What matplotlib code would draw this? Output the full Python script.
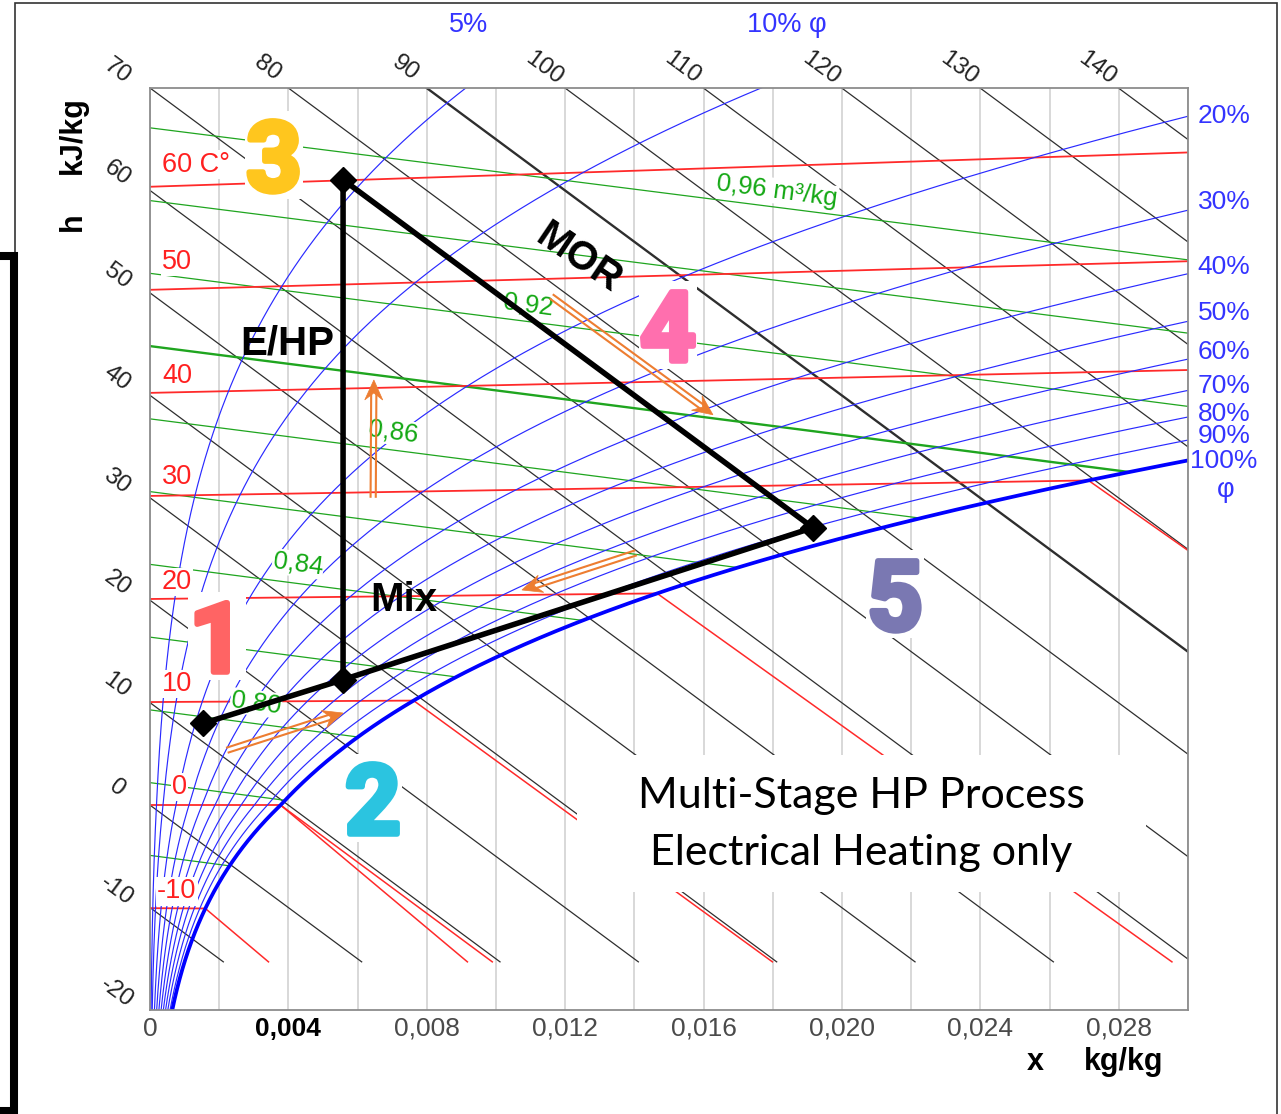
import numpy as np
import matplotlib
matplotlib.use("Agg")
import matplotlib.pyplot as plt
from matplotlib.lines import Line2D
from matplotlib.patches import Polygon, Rectangle
from matplotlib.transforms import IdentityTransform
from matplotlib.ticker import MultipleLocator
import matplotlib.patheffects as pe

plt.rcParams["font.family"] = ["Liberation Sans", "DejaVu Sans"]

W, H, DPI = 1281, 1114, 100

# ---------------- chart data ----------------
rh_levels = [0.05, 0.10, 0.20, 0.30, 0.40, 0.50, 0.60, 0.70, 0.80, 0.90, 1.00]
rh_right_values = [0.2, 0.3, 0.4, 0.5, 0.6, 0.7, 0.8, 0.9, 1.0]
rh_right_labels = ["20%", "30%", "40%", "50%", "60%", "70%", "80%", "90%", "100%"]
temp_levels = [-10, 0, 10, 20, 30, 40, 50, 60]
temp_labels = ["-10", "0", "10", "20", "30", "40", "50", "60 C°"]
enthalpy_levels = [-20, -10, 0, 10, 20, 30, 40, 50, 60, 70, 80, 90, 100, 110, 120, 130, 140]
volume_levels = [0.76, 0.78, 0.80, 0.82, 0.84, 0.86, 0.88, 0.90, 0.92, 0.94, 0.96]
x_ticks = [0, 0.004, 0.008, 0.012, 0.016, 0.020, 0.024, 0.028]
x_tick_labels = ["0", "0,004", "0,008", "0,012", "0,016", "0,020", "0,024", "0,028"]

# process states (x in kg/kg, h in kJ/kg): 1, Mix, 3, 5
state_x = [0.00153, 0.00558, 0.00558, 0.01916]
state_h = [11.8, 26.2, 75.0, 75.0]
process_order = [0, 1, 2, 3, 1]

# ---------------- psychrometrics ----------------
P = 101325.0
X_MAX, Y_MIN, Y_MAX = 0.030, -20.0, 70.0
Y_FOG_END = -15.3


def p_sat(t):
    t = np.asarray(t, float)
    return np.where(t >= 0, 611.2 * np.exp(17.62 * t / (243.12 + t)),
                    611.2 * np.exp(22.46 * t / (272.62 + t)))


def x_sat(t, phi=1.0):
    ps = phi * p_sat(t)
    return 0.622 * ps / (P - ps)


def ordinate(t, x):
    return 1.006 * t + 1.86 * t * x


def t_at_x(phi, x):
    lo, hi = -20.0, 99.0
    for _ in range(60):
        mid = 0.5 * (lo + hi)
        if float(x_sat(mid, phi)) < x:
            lo = mid
        else:
            hi = mid
    return 0.5 * (lo + hi)


# ---------------- figure ----------------
fig = plt.figure(figsize=(W / DPI, H / DPI), dpi=DPI)
fig.patch.set_facecolor("white")
PL, PR, PT, PB = 150, 1188, 88, 1010
ax = fig.add_axes([PL / W, 1 - PB / H, (PR - PL) / W, (PB - PT) / H])
ax.set_xlim(0, X_MAX)
ax.set_ylim(Y_MIN, Y_MAX)
for s in ax.spines.values():
    s.set_color("#8c8c8c")
    s.set_linewidth(1.3)
    s.set_zorder(8)
ax.set_yticks([])
ax.set_xticks(x_ticks)
ax.set_xticklabels(x_tick_labels, fontsize=19, color="#4a4a4a")
ax.get_xticklabels()[1].set_color("black")
ax.get_xticklabels()[1].set_fontweight("bold")
ax.xaxis.set_minor_locator(MultipleLocator(0.002))
ax.tick_params(axis="x", which="both", length=0, pad=5)
ax.grid(True, axis="x", which="both", color="#d6d6d6", lw=1.3, zorder=0)
ax.set_axisbelow(True)


def px2data(px, py):
    return ((px - PL) / (PR - PL) * X_MAX, Y_MIN + (PB - py) / (PB - PT) * (Y_MAX - Y_MIN))


# relative humidity curves
tt = np.linspace(-20, 99, 5000)
for phi in rh_levels:
    ps = phi * p_sat(tt)
    ok = ps < 0.7 * P
    xx = 0.622 * ps[ok] / (P - ps[ok])
    yy = ordinate(tt[ok], xx)
    if phi == 1.0:
        ax.plot(xx, yy, color="#0000ff", lw=2.7, zorder=2.5)
    else:
        ax.plot(xx, yy, color="#2a2aff", lw=0.85, zorder=2)

# isenthalps
for h in enthalpy_levels:
    if h < Y_FOG_END:
        continue
    x0 = max(0.0, (h - Y_MAX) / 2501.0)
    x1 = (h - Y_FOG_END) / 2501.0
    xs_ = np.array([x0, x1])
    ax.plot(xs_, h - 2501.0 * xs_, color="#2e2e2e", lw=1.7 if h == 90 else 0.9, zorder=1.5)

# isotherms
for t in temp_levels:
    xs = float(x_sat(t))
    xe = min(xs, X_MAX)
    ax.plot([0, xe], [ordinate(t, 0), ordinate(t, xe)], color="#ff2a2a", lw=1.3, zorder=1.8)
    ys = ordinate(t, xs)
    fogs = []
    if t >= 0:
        fogs.append(4.19 * t)
    if t <= 0:
        fogs.append(-333.0 + 2.09 * t)
    for c in fogs:
        slope = c - 2501.0
        x_end = xs + (Y_FOG_END - ys) / slope
        ax.plot([xs, x_end], [ys, Y_FOG_END], color="#ff2a2a", lw=1.1, zorder=1.8)

# specific volume lines
xg = np.linspace(0, 0.035, 4000)
for v in volume_levels:
    tg = v * P / (287.05 * (1 + 1.6078 * xg)) - 273.15
    ok = xg <= x_sat(tg)
    ax.plot(xg[ok], ordinate(tg[ok], xg[ok]), color="#1fa51f",
            lw=1.7 if abs(v - 0.90) < 1e-9 else 0.9, zorder=1.6)

# ---------------- chart labels ----------------
ang = -36.5
for h in enthalpy_levels:
    if h <= 70:
        ax.annotate(str(h), xy=(0, h), xytext=(-33, 17), textcoords="offset pixels",
                    rotation=ang, rotation_mode="anchor", ha="center", va="center",
                    fontsize=17.5, color="#222222", annotation_clip=False)
    else:
        ax.annotate(str(h), xy=((h - Y_MAX) / 2501.0, Y_MAX), xytext=(-21, 20),
                    textcoords="offset pixels", rotation=ang, rotation_mode="anchor",
                    ha="center", va="center", fontsize=17.5, color="#222222",
                    annotation_clip=False)

temp_dy = {-10: 17, 0: 18, 10: 18, 20: 17, 30: 19, 40: 17, 50: 28, 60: 22}
for t, lab in zip(temp_levels, temp_labels):
    dx = 22 if t == 0 else (7 if t == -10 else 12)
    ax.annotate(lab, xy=(0, ordinate(t, 0)), xytext=(dx, temp_dy[t]), textcoords="offset pixels",
                ha="left", va="center", fontsize=19.5, color="#ff2020", zorder=7.5,
                bbox=dict(facecolor="white", edgecolor="none", pad=1.0),
                annotation_clip=False)

vol_label_px = [("0,80", 256, 703), ("0,84", 298, 564), ("0,86", 393, 432),
                ("0,92", 528, 305), ("0,96 m³/kg", 777, 191)]
for lab, px, py in vol_label_px:
    ax.text(*px2data(px, py), lab, rotation=-7.5, rotation_mode="anchor", ha="center",
            va="center", fontsize=18.5, color="#14a814", zorder=3,
            bbox=dict(facecolor="white", edgecolor="none", pad=0.5))

rh_dy = [0, 8, 7, 8, 7, 4, 3, 4, -1]
for phi, lab, dy in zip(rh_right_values, rh_right_labels, rh_dy):
    te = t_at_x(phi, X_MAX)
    ax.annotate(lab, xy=(X_MAX, ordinate(te, X_MAX)), xytext=(36, dy), textcoords="offset pixels",
                ha="center", va="center", fontsize=19, color="#3434ff", annotation_clip=False)


def fig_text(px, py, s, **kw):
    fig.text(px / W, 1 - py / H, s, **kw)


fig_text(1226, 490, "φ", ha="center", va="center", fontsize=19.5, color="#3434ff")
fig_text(469, 25, "5%", ha="center", va="center", fontsize=19.5, color="#3434ff")
fig_text(787, 25, "10% φ", ha="center", va="center", fontsize=19.5, color="#3434ff")

fig_text(73, 135, "kJ/kg", rotation=90, ha="center", va="center", fontsize=22, fontweight="bold")
fig_text(73, 222, "h", rotation=90, ha="center", va="center", fontsize=22, fontweight="bold")
fig_text(1035, 1062, "x", ha="center", va="center", fontsize=22, fontweight="bold")
fig_text(1124, 1062, "kg/kg", ha="center", va="center", fontsize=22, fontweight="bold")

# white text box
bx0, by0 = px2data(577, 892)
bx1, by1 = px2data(1146, 755)
ax.add_patch(Rectangle((bx0, by0), bx1 - bx0, by1 - by0, facecolor="white", edgecolor="none", zorder=4))
ax.text(*px2data(861, 796), "Multi-Stage HP Process", ha="center", va="center",
        fontsize=31, family=["Lato", "DejaVu Sans"], color="black", zorder=5)
ax.text(*px2data(861, 853), "Electrical Heating only", ha="center", va="center",
        fontsize=31, family=["Lato", "DejaVu Sans"], color="black", zorder=5)

# ---------------- process ----------------
sy = [h - 2501.0 * x for x, h in zip(state_x, state_h)]
px_ = [state_x[i] for i in process_order]
py_ = [sy[i] for i in process_order]
ax.plot(px_, py_, color="black", lw=4.0, solid_joinstyle="miter", zorder=6)
ax.plot(state_x, sy, linestyle="none", marker="D", markersize=13, color="black", zorder=6.2)

ax.text(*px2data(287, 344), "E/HP", ha="center", va="center", fontsize=29,
        fontweight="bold", zorder=6)
ax.text(*px2data(404, 600), "Mix", ha="center", va="center", fontsize=29,
        fontweight="bold", zorder=6)
ax.text(*px2data(578, 258), "MOR", ha="center", va="center", fontsize=29, rotation=-34,
        fontweight="bold", zorder=6)

# orange double arrows (tail, head) in chart coordinates
arrows = [((0.00225, 5.38), (0.00558, 8.99)),
          ((0.00645, 30.1), (0.00647, 41.5)),
          ((0.01162, 49.6), (0.01627, 38.1)),
          ((0.01402, 24.6), (0.01075, 21.0))]
ORANGE = "#ED7D31"
fig.canvas.draw()
for tail, head in arrows:
    p0 = ax.transData.transform(tail)
    p1 = ax.transData.transform(head)
    d = p1 - p0
    u = d / np.hypot(*d)
    n = np.array([-u[1], u[0]])
    hl, hw, notch, gap = 20, 9, 7, 2.6
    base = p1 - u * (hl - notch)
    for s in (-1, 1):
        a = p0 + n * gap * s
        b = base + n * gap * s
        fig.add_artist(Line2D([a[0], b[0]], [a[1], b[1]], transform=IdentityTransform(),
                              color=ORANGE, lw=1.5, zorder=7))
    poly = [p1, p1 - u * hl + n * hw, p1 - u * (hl - notch), p1 - u * hl - n * hw]
    fig.add_artist(Polygon(poly, closed=True, transform=IdentityTransform(),
                           facecolor=ORANGE, edgecolor=ORANGE, lw=0.5, zorder=7))

# big state numbers
big_digits = [("3", 274, 155, "#FFC61E"), ("1", 217, 636, "#FF6464"),
              ("2", 373, 798, "#2BC4E0"), ("4", 668, 325, "#FF6FAE"),
              ("5", 895, 594, "#7A78B2")]
for s, cx, cy, col in big_digits:
    rx0, ry0 = px2data(cx - 29, cy + 44)
    rx1, ry1 = px2data(cx + 29, cy - 44)
    ax.add_patch(Rectangle((rx0, ry0), rx1 - rx0, ry1 - ry0, facecolor="white",
                           edgecolor="none", zorder=6.5))
    ax.text(*px2data(cx, cy), s, ha="center", va="center_baseline", fontsize=70,
            family=["Roboto", "DejaVu Sans"], fontweight="bold", color=col, zorder=7,
            path_effects=[pe.withStroke(linewidth=4, foreground=col)])

# ---------------- outer frame ----------------
def fig_line(xs, ys, lw, color):
    fig.add_artist(Line2D([x / W for x in xs], [1 - y / H for y in ys], transform=fig.transFigure,
                          lw=lw, color=color, solid_capstyle="butt", solid_joinstyle="miter"))


fig_line([15, 15, 1277, 1277], [253, 3, 3, 1114], 1.2, "#333333")
fig_line([0, 14, 14, 0], [256, 256, 1111, 1111], 5.8, "black")

fig.savefig("out.png", dpi=DPI)
